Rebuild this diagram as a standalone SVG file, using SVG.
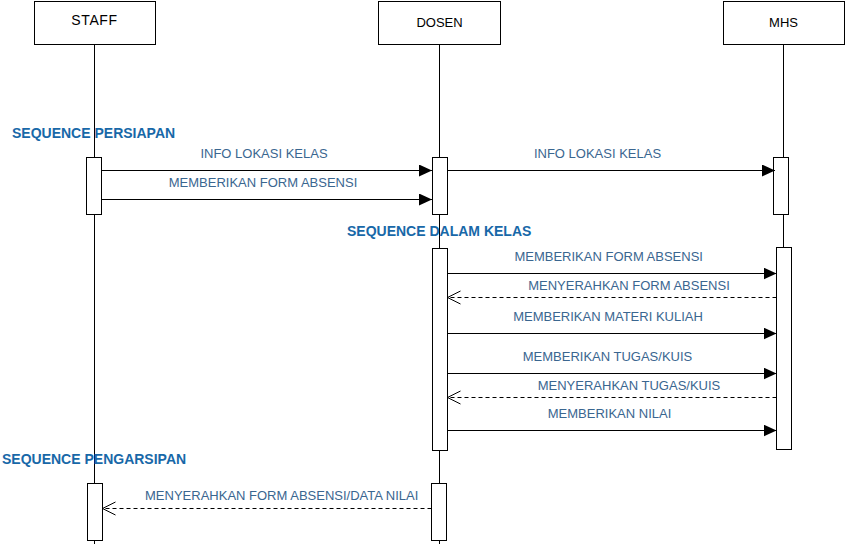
<svg xmlns="http://www.w3.org/2000/svg" width="846" height="544" viewBox="0 0 846 544">
<style>
.box{fill:#fff;stroke:#000;stroke-width:1}
.act{fill:#fff;stroke:#000;stroke-width:1}
.life{stroke:#000;stroke-width:1;fill:none}
.msg{stroke:#000;stroke-width:1;fill:none}
.ret{stroke:#000;stroke-width:1;fill:none;stroke-dasharray:4 3}
.name{font-family:"Liberation Sans",Arial,sans-serif;font-size:13px;fill:#000;text-anchor:middle}
.lbl{font-family:"Liberation Sans",Arial,sans-serif;font-size:13px;fill:#3a6690;text-anchor:middle}
.sec{font-family:"Liberation Sans",Arial,sans-serif;font-size:14px;font-weight:bold;fill:#1868a8}
</style>
<defs>
<marker id="fill" markerWidth="13" markerHeight="12" refX="13" refY="6" orient="auto" markerUnits="userSpaceOnUse">
<path d="M0,0 L13,6 L0,12 Z" fill="#000"/>
</marker>
<marker id="open" markerWidth="15" markerHeight="16" refX="14" refY="7.5" orient="auto" markerUnits="userSpaceOnUse">
<path d="M1,1 L14,7.5 L1,14" fill="none" stroke="#000" stroke-width="1"/>
</marker>
</defs>
<rect width="846" height="544" fill="#fff"/>
<g id="lifelines">
<line class="life" x1="94.5" y1="45" x2="94.5" y2="544"/>
<line class="life" x1="439.5" y1="45" x2="439.5" y2="544"/>
<line class="life" x1="783.5" y1="45" x2="783.5" y2="450"/>
</g>
<g id="staff">
<rect class="box" x="34.5" y="1.5" width="121" height="43"/>
<text class="name" x="94.5" y="25" style="font-size:14px;letter-spacing:0.6px">STAFF</text>
</g>
<g id="dosen">
<rect class="box" x="378.5" y="1.5" width="122" height="43"/>
<text class="name" x="439.5" y="26.5">DOSEN</text>
</g>
<g id="mhs">
<rect class="box" x="723.5" y="1.5" width="121" height="43"/>
<text class="name" x="783.5" y="26.5">MHS</text>
</g>
<g id="activations">
<rect class="act" x="86.5" y="157.5" width="15" height="57"/>
<rect class="act" x="432.5" y="157.5" width="15" height="57"/>
<rect class="act" x="773.5" y="157.5" width="15" height="57"/>
<rect class="act" x="432.5" y="248.5" width="15" height="202"/>
<rect class="act" x="776.5" y="247.5" width="15" height="202"/>
<rect class="act" x="87.5" y="483.5" width="15" height="57"/>
<rect class="act" x="431.5" y="483.5" width="15" height="57"/>
</g>
<g id="sections">
<text class="sec" x="12" y="137.5">SEQUENCE PERSIAPAN</text>
<text class="sec" x="347" y="235.5">SEQUENCE DALAM KELAS</text>
<text class="sec" x="2" y="463.5">SEQUENCE PENGARSIPAN</text>
</g>
<g id="connectors">
<line class="msg" x1="101.5" y1="170.5" x2="432" y2="170.5" marker-end="url(#fill)"/>
<line class="msg" x1="101.5" y1="199.5" x2="432" y2="199.5" marker-end="url(#fill)"/>
<line class="msg" x1="447.5" y1="170.5" x2="775" y2="170.5" marker-end="url(#fill)"/>
<line class="msg" x1="447.5" y1="273.5" x2="776.5" y2="273.5" marker-end="url(#fill)"/>
<line class="ret" x1="776.5" y1="297.5" x2="447.5" y2="297.5" marker-end="url(#open)"/>
<line class="msg" x1="447.5" y1="333.5" x2="776.5" y2="333.5" marker-end="url(#fill)"/>
<line class="msg" x1="447.5" y1="373.5" x2="776.5" y2="373.5" marker-end="url(#fill)"/>
<line class="ret" x1="776.5" y1="397.5" x2="447.5" y2="397.5" marker-end="url(#open)"/>
<line class="msg" x1="447.5" y1="430.5" x2="776.5" y2="430.5" marker-end="url(#fill)"/>
<line class="ret" x1="431.5" y1="508.5" x2="102.5" y2="508.5" marker-end="url(#open)"/>
</g>
<g id="labels">
<text class="lbl" x="264" y="158">INFO LOKASI KELAS</text>
<text class="lbl" x="263" y="187">MEMBERIKAN FORM ABSENSI</text>
<text class="lbl" x="597.5" y="158">INFO LOKASI KELAS</text>
<text class="lbl" x="608.7" y="261">MEMBERIKAN FORM ABSENSI</text>
<text class="lbl" x="629" y="290">MENYERAHKAN FORM ABSENSI</text>
<text class="lbl" x="608" y="321">MEMBERIKAN MATERI KULIAH</text>
<text class="lbl" x="607.5" y="361">MEMBERIKAN TUGAS/KUIS</text>
<text class="lbl" x="629" y="390">MENYERAHKAN TUGAS/KUIS</text>
<text class="lbl" x="609.5" y="418">MEMBERIKAN NILAI</text>
<text class="lbl" x="281.7" y="500">MENYERAHKAN FORM ABSENSI/DATA NILAI</text>
</g>
</svg>
